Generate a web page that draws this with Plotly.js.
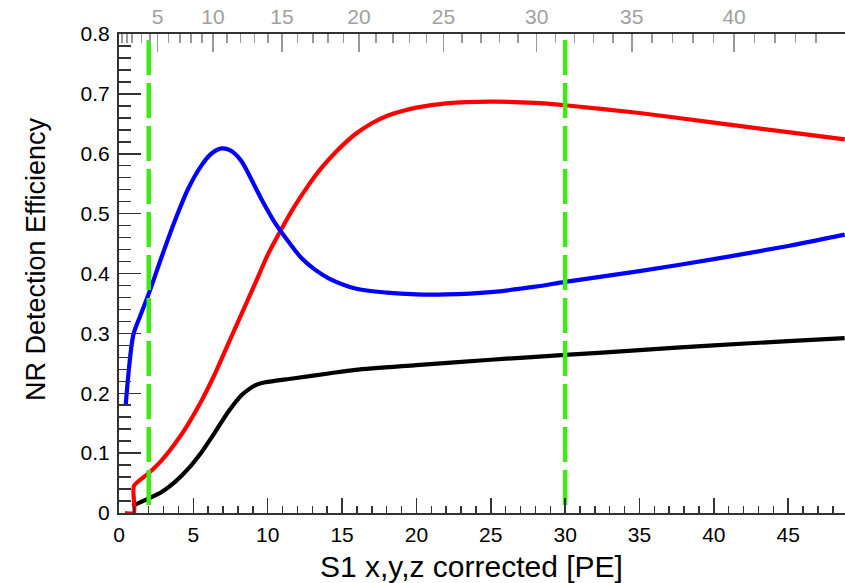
<!DOCTYPE html>
<html>
<head>
<meta charset="utf-8">
<script src="https://cdn.plot.ly/plotly-3.0.1.min.js"></script>
<style>html,body{margin:0;padding:0;background:#fff;}#chart{width:845px;height:583px;}</style>
</head>
<body>
<div id="chart"></div>
<script>
// ---- data ----
const blueX = [0.45, 0.96, 1.41, 1.97, 2.87, 3.77, 4.66, 5.56, 6.2, 6.9, 7.35, 7.8, 8.25, 8.7, 9.6, 10.5, 11.4, 12.3, 13.2, 14.1, 15.9, 18, 20, 22, 25, 28, 30, 35, 40, 45, 48.8];
const blueY = [0.18, 0.297, 0.328, 0.364, 0.428, 0.489, 0.542, 0.581, 0.600, 0.609, 0.607, 0.600, 0.587, 0.567, 0.523, 0.484, 0.453, 0.425, 0.406, 0.392, 0.375, 0.368, 0.365, 0.365, 0.369, 0.378, 0.386, 0.404, 0.424, 0.446, 0.465];

const redX = [0.4, 1.0, 1.0, 1.97, 2.87, 3.77, 4.66, 5.56, 6.46, 7.35, 8.25, 9.15, 10.0, 10.9, 11.8, 12.7, 13.6, 14.5, 15.9, 17, 18, 19, 20, 22, 25, 28, 30, 35, 40, 45, 48.8];
const redY = [0, 0, 0.045, 0.066, 0.088, 0.116, 0.149, 0.188, 0.233, 0.283, 0.333, 0.383, 0.431, 0.473, 0.512, 0.546, 0.576, 0.601, 0.633, 0.651, 0.663, 0.671, 0.677, 0.684, 0.687, 0.685, 0.681, 0.668, 0.652, 0.636, 0.624];

const blackX = [0.9, 1.97, 2.87, 3.77, 4.66, 5.56, 6.46, 7.35, 8.25, 8.7, 9.15, 9.6, 10.0, 11.8, 14.1, 15.9, 20, 25, 30, 35, 40, 45, 48.8];
const blackY = [0.012, 0.024, 0.035, 0.052, 0.074, 0.102, 0.135, 0.169, 0.197, 0.206, 0.213, 0.217, 0.219, 0.225, 0.233, 0.239, 0.247, 0.256, 0.264, 0.272, 0.280, 0.287, 0.292];

// vertical cut lines (S1 PE)
const cutX = [2, 30];
const cutY = [0.79, 0];

// top axis (grey): labels and their S1 positions
const topLabels = ['5', '10', '15', '20', '25', '30', '35', '40'];
const topLabelNum = [5, 10, 15, 20, 25, 30, 35, 40];
const topPos = [2.6, 6.32, 10.96, 16.14, 21.82, 28.09, 34.48, 41.36];
const topLowMinor = [0.2, 0.54, 0.87, 1.5, 2.08];

// ---- build ----
const topMinor = topLowMinor.slice();
for (let i = 0; i < topPos.length - 1; i++) {
  const step = (topPos[i + 1] - topPos[i]) / (topLabelNum[i + 1] - topLabelNum[i]);
  for (let k = 1; k < topLabelNum[i + 1] - topLabelNum[i]; k++) topMinor.push(topPos[i] + k * step);
}
{
  const n = topPos.length - 1;
  const step = (topPos[n] - topPos[n - 1]) / 5;
  for (let k = 1; k < 5; k++) topMinor.push(topPos[n] + k * step);
}

const FONT = 'Liberation Sans, Arial, sans-serif';
const axCol = '#333';
const traces = [];
cutX.forEach(cx => traces.push({
  x: [cx, cx], y: cutY, xaxis: 'x2', yaxis: 'y', mode: 'lines',
  line: {color: 'rgb(60,235,20)', width: 4.5, dash: '35px,8px'},
  hoverinfo: 'skip', showlegend: false
}));
traces.push({x: blackX, y: blackY, mode: 'lines', line: {color: '#000', width: 4.2, shape: 'spline', smoothing: 0.8}, showlegend: false});
traces.push({x: redX, y: redY, mode: 'lines', line: {color: '#ff0000', width: 4.2, shape: 'spline', smoothing: 0.6}, showlegend: false});
traces.push({x: blueX, y: blueY, mode: 'lines', line: {color: '#0000ff', width: 4.2, shape: 'spline', smoothing: 0.8}, showlegend: false});

const range = [0, 48.82];
const layout = {
  width: 845, height: 583,
  margin: {l: 119, r: 0, t: 34, b: 70, pad: 0},
  paper_bgcolor: '#fff', plot_bgcolor: '#fff',
  showlegend: false,
  font: {family: FONT, color: '#000'},
  xaxis: {
    range: range, tickmode: 'linear', tick0: 0, dtick: 5,
    ticks: 'inside', ticklen: 15, tickwidth: 1.5, tickcolor: axCol,
    minor: {dtick: 1, ticks: 'inside', ticklen: 7, tickwidth: 1.5, tickcolor: axCol},
    showline: true, linecolor: axCol, linewidth: 2,
    showgrid: false, zeroline: false,
    tickfont: {family: FONT, size: 21, color: '#000'},
    ticklabelstandoff: 2
  },
  xaxis2: {
    overlaying: 'x', side: 'top', anchor: 'y', range: range,
    tickmode: 'array', tickvals: topPos, ticktext: topLabels,
    ticks: 'inside', ticklen: 18, tickwidth: 1.5, tickcolor: '#999',
    minor: {tickmode: 'array', tickvals: topMinor, ticks: 'inside', ticklen: 9, tickwidth: 1.5, tickcolor: '#999'},
    showline: true, linecolor: axCol, linewidth: 2,
    showgrid: false, zeroline: false,
    tickfont: {family: FONT, size: 21, color: '#a0a0a0'},
    ticklabelstandoff: 0
  },
  yaxis: {
    range: [0, 0.8], tickmode: 'linear', tick0: 0, dtick: 0.1,
    ticks: 'inside', ticklen: 22, tickwidth: 1.5, tickcolor: axCol,
    minor: {dtick: 0.02, ticks: 'inside', ticklen: 12, tickwidth: 1.5, tickcolor: axCol},
    showline: true, linecolor: axCol, linewidth: 2,
    showgrid: false, zeroline: false,
    tickfont: {family: FONT, size: 21, color: '#000'},
    ticklabelstandoff: 3
  },
  annotations: [
    {text: 'S1 x,y,z corrected [PE]', xref: 'paper', yref: 'paper',
     x: (471.5 - 119) / 726, y: -(566 - 513) / 479, xanchor: 'center', yanchor: 'middle',
     showarrow: false, font: {family: FONT, size: 30, color: '#000'}},
    {text: 'NR Detection Efficiency', xref: 'paper', yref: 'paper', textangle: -90,
     x: (36 - 119) / 726, y: (513 - 259) / 479, xanchor: 'center', yanchor: 'middle',
     showarrow: false, font: {family: FONT, size: 27, color: '#000'}}
  ]
};
Plotly.newPlot('chart', traces, layout, {displayModeBar: false, staticPlot: true});
</script>
</body>
</html>
